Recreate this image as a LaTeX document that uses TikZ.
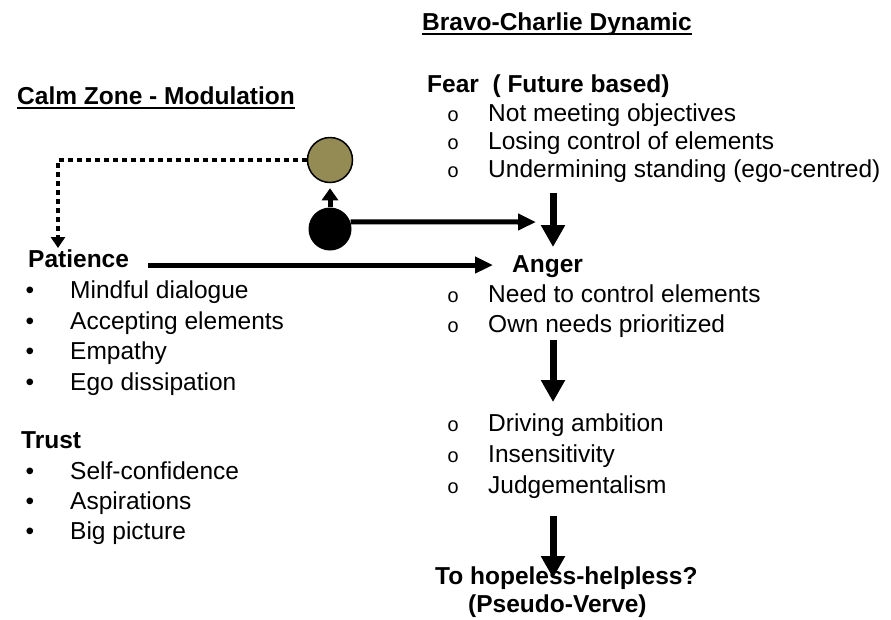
\documentclass[tikz,border=0pt]{standalone}
\usepackage{fontspec}
\setmainfont{Liberation Sans}
\newfontfamily\ringfont{Liberation Mono}
\usetikzlibrary{arrows.meta}

\definecolor{olive}{RGB}{148,138,84}

\begin{document}
\begin{tikzpicture}[x=1pt, y=-1pt, font=\fontsize{24.5}{30}\selectfont,
		txt/.style={anchor=base west, inner sep=0pt},
		head/.style={txt, font=\fontsize{24.5}{30}\selectfont\bfseries},
		dot/.style={anchor=base, inner sep=0pt},
		ring/.style={anchor=base, inner sep=0pt, font=\fontsize{20}{24}\ringfont},
		downarrow/.style={line width=7pt, -{Triangle[length=22pt, width=23pt]}},
		flatarrow/.style={line width=5pt, -{Triangle[length=18pt, width=16pt]}}]
		\useasboundingbox (0,0) rectangle (891,619);

		\node[head] (bravo) at (422,30) {Bravo-Charlie Dynamic};
		\draw[line width=2pt] ([yshift=-4pt]bravo.base west) -- ([yshift=-4pt]bravo.base east);
		\node[head] (calm) at (17,104) {Calm Zone - Modulation};
		\draw[line width=2pt] ([yshift=-4pt]calm.base west) -- ([yshift=-4pt]calm.base east);

		\node[head] (fear) at (427,92) {Fear~~( Future based)};
		\foreach \y/\t in {121/Not meeting objectives, 149/Losing control of elements, 177/Undermining standing (ego-centred)} {
			\node[ring] at (453,\y) {o};
			\node[txt] at (488,\y) {\t};
		}

		\node[head] (anger) at (512,272) {Anger};
		\foreach \y/\t in {302/Need to control elements, 332/Own needs prioritized, 431/Driving ambition, 462/Insensitivity, 493/Judgementalism} {
			\node[ring] at (453,\y) {o};
			\node[txt] at (488,\y) {\t};
		}
		\node[head] (hope) at (435,584) {To hopeless-helpless?};
		\node[head] (pseudo) at (468,612) {(Pseudo-Verve)};

		\node[head] (patience) at (28,267) {Patience};
		\node[head] (trust) at (21,448) {Trust};
		\foreach \y/\t in {298/Mindful dialogue, 329/Accepting elements, 359/Empathy, 390/Ego dissipation, 479/Self-confidence, 509/Aspirations, 539/Big picture} {
			\node[dot] at (30,\y) {•};
			\node[txt] at (70,\y) {\t};
		}

		\node[circle, draw, line width=1.5pt, fill=olive, minimum size=45pt, inner sep=0pt] (brown) at (330,160) {};
		\node[circle, fill=black, minimum size=43pt, inner sep=0pt] (black) at (330,229) {};

		\coordinate (f1) at (553,193);
		\coordinate (f2) at (553,247);
		\coordinate (a1) at (553,340);
		\coordinate (a2) at (553,402);
		\coordinate (h1) at (553,516);
		\coordinate (h2) at (553,578);
		\coordinate (back) at (58,248);
		\coordinate (push) at (536,222);

		\draw[downarrow] (f1) -- (f2);
		\draw[downarrow] (a1) -- (a2);
		\draw[downarrow] (h1) -- (h2);
		\draw[flatarrow] (black.19) -- (push);
		\draw[flatarrow] ([xshift=19pt, yshift=2pt]patience.base east) -- ([xshift=-19pt, yshift=2pt]patience.base east -| anger.west);
		\draw[line width=5pt, shorten >=5pt, -{Triangle[length=12pt, width=16pt]}] (black.north) -- (brown.south);
		\draw[line width=4pt, dash pattern=on 4.5pt off 4.5pt, -{Triangle[length=11pt, width=14pt]}] (brown.west) -| (back);
	\end{tikzpicture}
\end{document}
